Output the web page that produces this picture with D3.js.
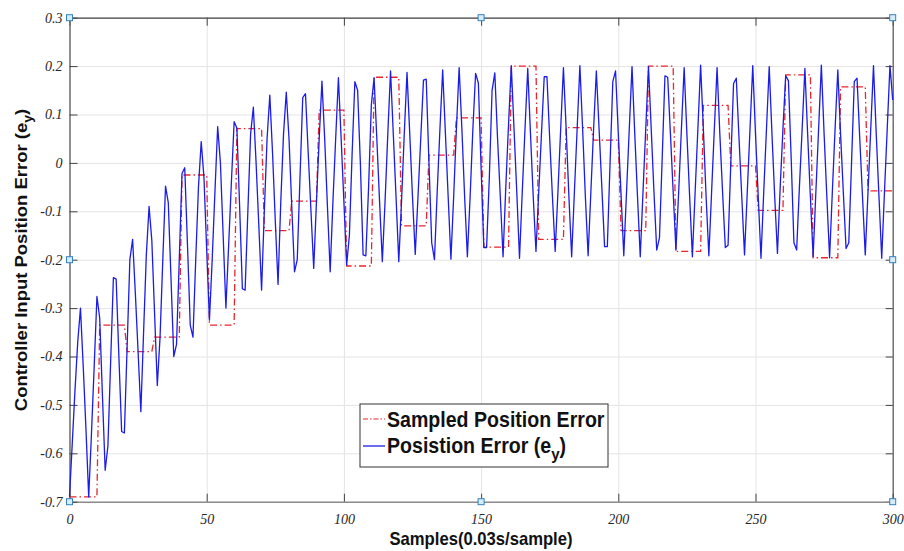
<!DOCTYPE html>
<head>
<meta charset="utf-8">
<script src="https://d3js.org/d3.v7.min.js"></script>
<style>
    body {
        margin: 0;
        background-color: #fff;
    }

    .grid line {
        stroke: #e4e4e4;
        stroke-width: 1px;
    }

    .grid path {
        display: none;
    }

    .axis text {
        font-family: "Liberation Serif", serif;
        font-style: italic;
        font-size: 14px;
        fill: #262626;
    }

    .axis line {
        stroke: #444;
    }

    .title {
        font-family: "Liberation Sans", Arial, sans-serif;
        font-weight: bold;
        fill: #111;
    }
</style>
</head>

<body>
<script>
    var width = 904,
        height = 551;

    var plotLeft = 69.5, plotRight = 892.7, plotTop = 17.7, plotBottom = 501.7;

    // axis ticks
    var xTicks = [0, 50, 100, 150, 200, 250, 300];
    var yTicks = [-0.7, -0.6, -0.5, -0.4, -0.3, -0.2, -0.1, 0, 0.1, 0.2, 0.3];
    var yTickLabels = ["-0.7", "-0.6", "-0.5", "-0.4", "-0.3", "-0.2", "-0.1", "0", "0.1", "0.2", "0.3"];

    // sampled error, one value held for each block of 10 samples
    var sampledError = [-0.69, -0.335, -0.39, -0.36, -0.025, -0.335, 0.071, -0.14, -0.079, 0.109,
        -0.213, 0.177, -0.13, 0.016, 0.093, -0.174, 0.2, -0.158, 0.073, 0.047,
        -0.14, 0.2, -0.183, 0.119, -0.006, -0.098, 0.182, -0.196, 0.157, -0.058];

    // position error e_y, samples 0..300
    var positionError = [
        -0.69, -0.58, -0.47, -0.37, -0.30, -0.42, -0.55, -0.69, -0.56, -0.42,
        -0.276, -0.32, -0.48, -0.635, -0.585, -0.41, -0.237, -0.24, -0.40, -0.555,
        -0.558, -0.38, -0.20, -0.158, -0.27, -0.39, -0.514, -0.35, -0.19, -0.09,
        -0.16, -0.31, -0.46, -0.36, -0.20, -0.048, -0.082, -0.24, -0.40, -0.375,
        -0.20, -0.022, -0.01, -0.17, -0.335, -0.36, -0.20, -0.05, 0.044, -0.03,
        -0.18, -0.325, -0.20, -0.06, 0.075, 0.0, -0.15, -0.30, -0.17, -0.04,
        0.085, 0.072, -0.09, -0.26, -0.263, -0.10, 0.06, 0.115, 0.0, -0.13,
        -0.263, -0.10, 0.05, 0.14, 0.02, -0.12, -0.251, -0.08, 0.06, 0.146,
        0.05, -0.09, -0.225, -0.20, -0.03, 0.135, 0.143, 0.02, -0.10, -0.218,
        -0.08, 0.05, 0.169, 0.05, -0.09, -0.225, -0.08, 0.05, 0.176, 0.05,
        -0.08, -0.211, -0.15, 0.02, 0.168, 0.15, 0.0, -0.19, -0.192, -0.05,
        0.12, 0.176, 0.05, -0.08, -0.204, -0.08, 0.06, 0.19, 0.06, -0.07,
        -0.204, -0.08, 0.06, 0.187, 0.06, -0.07, -0.189, -0.07, 0.05, 0.171,
        0.173, 0.0, -0.165, -0.20, -0.06, 0.07, 0.192, 0.06, -0.07, -0.199,
        -0.07, 0.07, 0.197, 0.07, -0.07, -0.194, -0.07, 0.07, 0.185, 0.165,
        -0.01, -0.175, -0.175, -0.03, 0.15, 0.186, 0.05, -0.07, -0.194, -0.05,
        0.08, 0.201, 0.07, -0.06, -0.197, -0.06, 0.07, 0.195, 0.06, -0.07,
        -0.183, -0.06, 0.06, 0.178, 0.178, 0.05, -0.07, -0.183, -0.06, 0.07,
        0.197, 0.07, -0.07, -0.194, -0.06, 0.07, 0.201, 0.07, -0.07, -0.192,
        -0.06, 0.07, 0.19, 0.07, -0.05, -0.173, -0.173, 0.0, 0.168, 0.19,
        0.06, -0.065, -0.192, -0.06, 0.07, 0.199, 0.06, -0.07, -0.194, -0.06,
        0.07, 0.199, 0.07, -0.06, -0.18, -0.155, 0.01, 0.18, 0.177, 0.06,
        -0.06, -0.18, -0.06, 0.07, 0.197, 0.06, -0.07, -0.194, -0.06, 0.07,
        0.202, 0.07, -0.07, -0.192, -0.06, 0.07, 0.197, 0.06, -0.06, -0.175,
        -0.17, 0.0, 0.164, 0.175, 0.05, -0.07, -0.19, -0.06, 0.07, 0.201,
        0.06, -0.07, -0.197, -0.06, 0.07, 0.199, 0.06, -0.07, -0.187, -0.05,
        0.07, 0.18, 0.17, 0.01, -0.165, -0.18, -0.05, 0.07, 0.195, 0.06,
        -0.07, -0.194, -0.06, 0.07, 0.202, 0.06, -0.07, -0.196, -0.06, 0.07,
        0.192, 0.06, -0.06, -0.177, -0.165, 0.0, 0.168, 0.175, 0.05, -0.07,
        -0.19, -0.06, 0.07, 0.201, 0.06, -0.07, -0.197, -0.06, 0.07, 0.201,
        0.13
    ];

    // selection handles drawn on the axes box
    var handles = [[0, 0.3], [150, 0.3], [300, 0.3], [0, -0.2], [300, -0.2], [0, -0.7], [150, -0.7], [300, -0.7]];

    var x = d3.scaleLinear().domain([0, 300]).range([plotLeft, plotRight]);
    var y = d3.scaleLinear().domain([-0.7, 0.3]).range([plotBottom, plotTop]);

    var svg = d3.select("body").append("svg")
        .attr("width", width)
        .attr("height", height);

    // grid
    svg.append("g")
        .attr("class", "grid")
        .attr("transform", "translate(0," + plotBottom + ")")
        .call(d3.axisBottom(x).tickValues(xTicks).tickSize(-(plotBottom - plotTop)).tickFormat(""));

    svg.append("g")
        .attr("class", "grid")
        .attr("transform", "translate(" + plotLeft + ",0)")
        .call(d3.axisLeft(y).tickValues(yTicks).tickSize(-(plotRight - plotLeft)).tickFormat(""));

    // box axes
    var topAxis = svg.append("g")
        .attr("class", "axis")
        .attr("transform", "translate(0," + plotTop + ")")
        .call(d3.axisTop(x).tickValues(xTicks).tickSize(-8).tickSizeOuter(0).tickFormat(""));
    topAxis.select(".domain").attr("stroke", "#444").attr("stroke-width", 1.2);

    var rightAxis = svg.append("g")
        .attr("class", "axis")
        .attr("transform", "translate(" + plotRight + ",0)")
        .call(d3.axisRight(y).tickValues(yTicks).tickSize(-7).tickSizeOuter(0).tickFormat(""));
    rightAxis.select(".domain").attr("stroke", "#555").attr("stroke-width", 1.2);

    var bottomAxis = svg.append("g")
        .attr("class", "axis")
        .attr("transform", "translate(0," + plotBottom + ")")
        .call(d3.axisBottom(x).tickValues(xTicks).tickSize(-8).tickSizeOuter(0).tickPadding(12));
    bottomAxis.select(".domain").attr("stroke", "#8c8c8c").attr("stroke-width", 1.6);

    var leftAxis = svg.append("g")
        .attr("class", "axis")
        .attr("transform", "translate(" + plotLeft + ",0)")
        .call(d3.axisLeft(y).tickValues(yTicks).tickSize(-8).tickSizeOuter(0).tickPadding(7)
            .tickFormat(function(d, i) {
                return yTickLabels[i];
            }));
    leftAxis.select(".domain").attr("stroke", "#666").attr("stroke-width", 1.4);

    // sampled error as a held step
    var stepPts = [];
    sampledError.forEach(function(v, i) {
        stepPts.push([i === 0 ? 0 : i * 10 + 1, v]);
        stepPts.push([i * 10 + 10, v]);
    });

    var line = d3.line()
        .x(function(d) { return x(d[0]); })
        .y(function(d) { return y(d[1]); });

    svg.append("path")
        .datum(stepPts)
        .attr("d", line)
        .attr("fill", "none")
        .attr("stroke", "#e8262c")
        .attr("stroke-width", 1.3)
        .attr("stroke-dasharray", "7,3,1.5,3");

    svg.append("path")
        .datum(positionError.map(function(v, i) { return [i, v]; }))
        .attr("d", line)
        .attr("fill", "none")
        .attr("stroke", "#1c1ce8")
        .attr("stroke-width", 1.3)
        .attr("stroke-linejoin", "round");

    svg.selectAll(".handle")
        .data(handles)
        .enter().append("rect")
        .attr("class", "handle")
        .attr("x", function(d) { return x(d[0]) - 3; })
        .attr("y", function(d) { return y(d[1]) - 3; })
        .attr("width", 6)
        .attr("height", 6)
        .attr("fill", "#d6ecf8")
        .attr("stroke", "#3382bd")
        .attr("stroke-width", 1);

    // legend
    var legend = svg.append("g").attr("class", "legend");

    legend.append("rect")
        .attr("x", 360)
        .attr("y", 404)
        .attr("width", 248)
        .attr("height", 63)
        .attr("fill", "#fff")
        .attr("stroke", "#333")
        .attr("stroke-width", 1);

    legend.append("line")
        .attr("x1", 363).attr("x2", 385)
        .attr("y1", 419).attr("y2", 419)
        .attr("stroke", "#e8262c")
        .attr("stroke-width", 1.2)
        .attr("stroke-dasharray", "5,2,1.5,2");

    legend.append("line")
        .attr("x1", 363).attr("x2", 385)
        .attr("y1", 446).attr("y2", 446)
        .attr("stroke", "#1c1ce8")
        .attr("stroke-width", 1.3);

    legend.append("text")
        .attr("class", "title")
        .attr("transform", "translate(387,426.5) scale(0.89,1)")
        .style("font-size", "22px")
        .text("Sampled Position Error");

    var t2 = legend.append("text")
        .attr("class", "title")
        .attr("transform", "translate(387,453) scale(0.89,1)")
        .style("font-size", "22px");
    t2.append("tspan").text("Posistion Error (e");
    t2.append("tspan").attr("dy", 7).style("font-size", "17px").text("y");
    t2.append("tspan").attr("dy", -7).text(")");

    // axis titles
    svg.append("text")
        .attr("class", "title")
        .attr("text-anchor", "middle")
        .attr("transform", "translate(481,545) scale(0.9,1)")
        .style("font-size", "18.5px")
        .text("Samples(0.03s/sample)");

    var yt = svg.append("text")
        .attr("class", "title")
        .attr("text-anchor", "middle")
        .attr("transform", "translate(27,260) rotate(-90) scale(1,0.9)")
        .style("font-size", "18.5px");
    yt.append("tspan").text("Controller Input Position Error (e");
    yt.append("tspan").attr("dy", 6).style("font-size", "14px").text("y");
    yt.append("tspan").attr("dy", -6).text(")");
</script>
</body>
